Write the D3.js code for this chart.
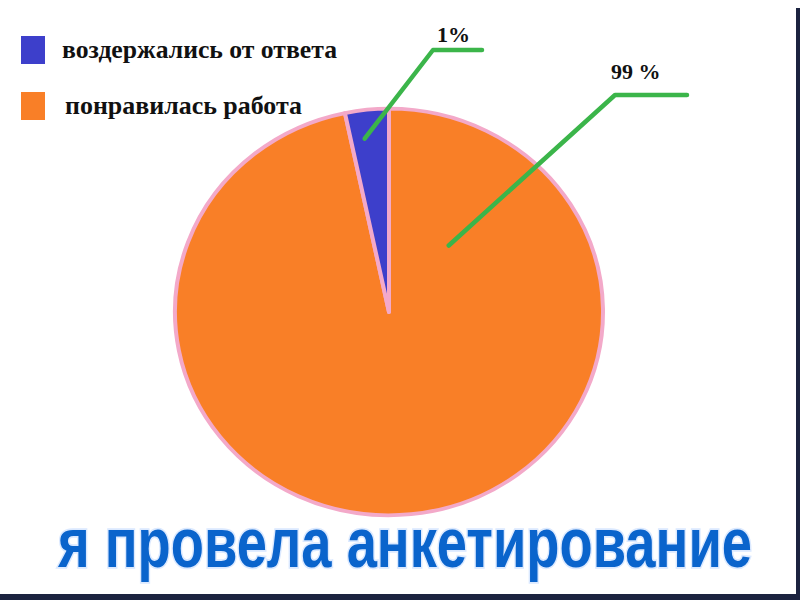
<!DOCTYPE html>
<html>
<head>
<meta charset="utf-8">
<script src="https://cdn.jsdelivr.net/npm/d3@7"></script>
<style>
  body { margin: 0; background: #fff; }
  svg { display: block; }
</style>
</head>
<body>
<div class="pie_chart"></div>
<script>
// categories in legend order
const categories = ["воздержались от ответа", "понравилась работа"];
// slice shares as they are drawn in the picture (the small slice is ~3%)
const shares = [3.3, 96.7];
// percentage labels as printed on the chart
const pctLabels = ["1%", "99 %"];
const title = "я провела анкетирование";

const colors = ["#3d3fcb", "#f97f27"];

const width = 800, height = 600;
const cx = 389, cy = 312, radius = 214;

const svg = d3.select(".pie_chart").append("svg")
    .attr("width", width)
    .attr("height", height);

svg.append("rect")
    .attr("width", width).attr("height", height)
    .attr("fill", "#fff");

// slide frame bits at the edge
svg.append("rect")
    .attr("x", 0).attr("y", 594).attr("width", width).attr("height", 6)
    .attr("fill", "#1c2340");
svg.append("rect")
    .attr("x", 796).attr("y", 8).attr("width", 4).attr("height", 592)
    .attr("fill", "#1c2340");

const data = categories.map((c, i) => ({ name: c, value: shares[i], color: colors[i], label: pctLabels[i] }));

// the big slice starts at 12 o'clock and goes clockwise, the small one closes the circle
const pie = d3.pie().sort(null).value(d => d.value);
const arcs = pie(data.slice().reverse());

const arc = d3.arc().innerRadius(0).outerRadius(radius);

const g = svg.append("g")
    .attr("transform", `translate(${cx},${cy}) scale(1,0.95)`);

g.selectAll(".slice")
    .data(arcs)
    .enter().append("path")
    .attr("class", "slice")
    .attr("d", arc)
    .attr("fill", d => d.data.color)
    .attr("stroke", "#f3a9c9")
    .attr("stroke-width", 4)
    .attr("stroke-linejoin", "round");

// Legend
const legend = svg.append("g");
const legendY = [50, 106];
data.forEach((d, i) => {
    legend.append("rect")
        .attr("x", 21).attr("y", legendY[i] - 14)
        .attr("width", 24).attr("height", 28)
        .attr("fill", d.color);
    legend.append("text")
        .attr("x", i === 0 ? 62 : 65)
        .attr("y", legendY[i] + 8)
        .attr("textLength", i === 0 ? 275 : 237)
        .attr("lengthAdjust", "spacingAndGlyphs")
        .style("font-family", "'Liberation Serif', 'DejaVu Serif', serif")
        .style("font-weight", "bold")
        .style("font-size", "25px")
        .style("fill", "#111")
        .text(d.name);
});

// leader lines: start given in polar coords around the pie, then elbow + shelf
const leaders = [
    { name: categories[0], angle: -7.6, r: 0.86, elbow: [433, 50], end: 482, text: [437, 42] },
    { name: categories[1], angle: 40.5, r: 0.43, elbow: [615, 95], end: 687, text: [611, 79] }
];

leaders.forEach(l => {
    const d = data.find(e => e.name === l.name);
    const a = l.angle * Math.PI / 180;
    const sx = cx + Math.sin(a) * radius * l.r;
    const sy = cy - Math.cos(a) * radius * l.r * 0.95;
    svg.append("path")
        .attr("d", d3.line()([[sx, sy], l.elbow, [l.end, l.elbow[1]]]))
        .attr("fill", "none")
        .attr("stroke", "#3bb54a")
        .attr("stroke-width", 4.5)
        .attr("stroke-linecap", "round")
        .attr("stroke-linejoin", "round");
    svg.append("text")
        .attr("x", l.text[0]).attr("y", l.text[1])
        .style("font-family", "'Liberation Serif', 'DejaVu Serif', serif")
        .style("font-weight", "bold")
        .style("font-size", "22px")
        .style("fill", "#111")
        .text(d.label);
});

// Title: smaller font, stretched up so it stays inside the page
svg.append("text")
    .attr("transform", "translate(58,567) scale(1,1.4)")
    .attr("textLength", 694)
    .attr("lengthAdjust", "spacingAndGlyphs")
    .style("font-family", "'Liberation Sans', Arial, sans-serif")
    .style("font-weight", "bold")
    .style("font-size", "50px")
    .style("fill", "#0a64cc")
    .style("stroke", "#dbe9ff")
    .style("stroke-width", 2.5)
    .style("paint-order", "stroke")
    .text(title);
</script>
</body>
</html>
